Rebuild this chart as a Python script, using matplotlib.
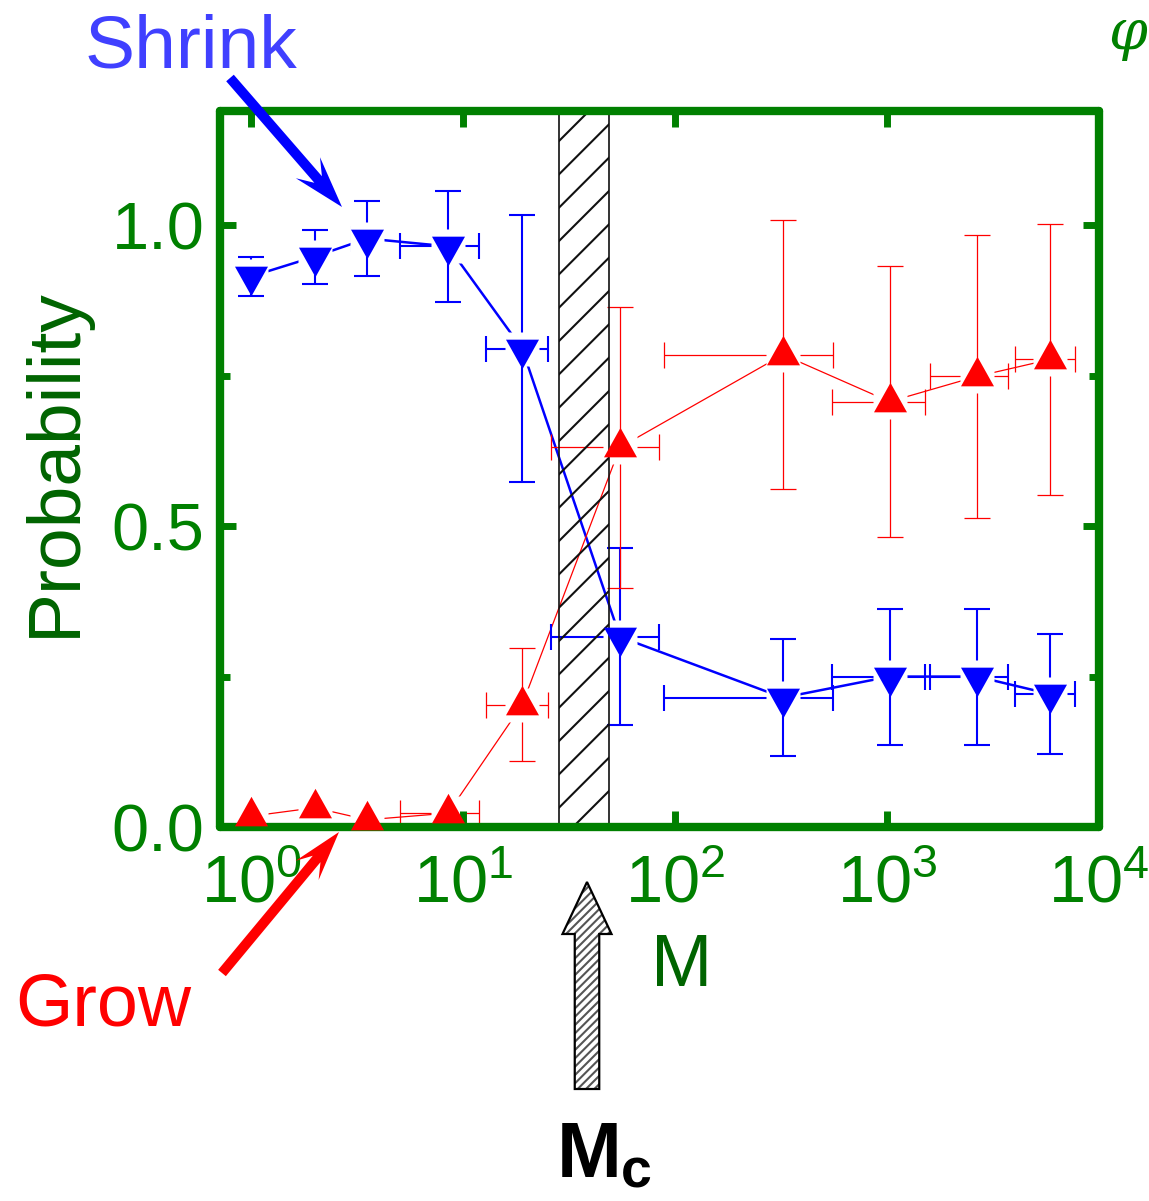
import numpy as np
import matplotlib
matplotlib.use("Agg")
import matplotlib.pyplot as plt
from matplotlib.patches import FancyArrow
from matplotlib.ticker import NullLocator, FixedLocator

plt.rcParams['font.family'] = ['Liberation Sans', 'DejaVu Sans']
plt.rcParams['mathtext.fontset'] = 'custom'
plt.rcParams['mathtext.rm'] = 'Liberation Sans'
plt.rcParams['mathtext.it'] = 'Liberation Sans:italic'
plt.rcParams['mathtext.bf'] = 'Liberation Sans:bold'
plt.rcParams['hatch.linewidth'] = 1.5

# ---------------- data ----------------
M = [1.0, 2.0, 3.53, 8.5, 19.0, 55.0, 323.0, 1028.0, 2660.0, 5870.0]
M_err = [0.0, 0.0, 0.54, 3.46, 6.1, 29.0, 234.0, 478.0, 1063.0, 1845.0]

shrink = [0.915, 0.948, 0.978, 0.965, 0.795, 0.316, 0.215, 0.250, 0.250, 0.221]
shrink_err = [0.032, 0.045, 0.063, 0.092, 0.222, 0.147, 0.097, 0.113, 0.113, 0.100]

grow = [0.018, 0.032, 0.012, 0.023, 0.203, 0.631, 0.785, 0.707, 0.749, 0.777]
grow_err = [0.010, 0.025, 0.010, 0.015, 0.094, 0.234, 0.224, 0.225, 0.235, 0.226]

Mc_band = [28.4, 48.9]

x_ticks = [1, 10, 100, 1000, 10000]
y_ticks = [0.0, 0.5, 1.0]
y_ticklabels = ['0.0', '0.5', '1.0']
y_minor = [0.25, 0.75]

GREEN = '#008000'
DGREEN = '#006400'
BLUE = '#0000FF'
RED = '#FF0000'

W, H = 1149, 1201
fig = plt.figure(figsize=(W / 100, H / 100), dpi=100)
L, R, T, B = 220, 1099, 111, 827
ax = fig.add_axes([L / W, (H - B) / H, (R - L) / W, (B - T) / H])

ax.set_xscale('log')
ax.set_xlim(0.714, 1e4)
ax.set_ylim(0, 1.19)

# custom triangle markers with centroid at origin
h, w = 29.5, 16.5
up_tri = [(-w, -h / 3), (w, -h / 3), (0, 2 * h / 3), (-w, -h / 3)]
down_tri = [(x, -y) for x, y in up_tri]
ms_tri = 2 * (2 * h / 3) * 0.72

# hatched band
ax.axvspan(Mc_band[0], Mc_band[1], facecolor='none', edgecolor='#111111',
           hatch='/', lw=1.2, zorder=2.2)

# connecting lines
ax.plot(M, shrink, color=BLUE, lw=1.8, zorder=1.6)
ax.plot(M, grow, color=RED, lw=0.9, zorder=1.6)

# error bars
ax.errorbar(M, shrink, yerr=shrink_err, xerr=M_err, fmt='none', ecolor=BLUE,
            elinewidth=1.5, capsize=9.5, capthick=1.5, zorder=1.7)
ax.errorbar(M, grow, yerr=grow_err, xerr=M_err, fmt='none', ecolor=RED,
            elinewidth=0.9, capsize=9.5, capthick=0.9, zorder=1.7)

# white halos (gap around markers)
ax.plot(M, shrink, 's', ms=25, color='white', mec='none', zorder=2.0)
ax.plot(M, grow, 's', ms=25, color='white', mec='none', zorder=2.0)

# markers
ax.plot(M, shrink, linestyle='none', marker=down_tri, ms=ms_tri, color=BLUE,
        mec='none', zorder=3, clip_on=False)
ax.plot(M, grow, linestyle='none', marker=up_tri, ms=ms_tri, color=RED,
        mec='none', zorder=3, clip_on=False)

# ticks
ax.xaxis.set_major_locator(FixedLocator(x_ticks))
ax.xaxis.set_minor_locator(NullLocator())
ax.set_yticks(y_ticks)
ax.set_yticklabels(y_ticklabels)
ax.yaxis.set_minor_locator(FixedLocator(y_minor))
ax.tick_params(which='both', direction='in', top=True, right=True,
               color=GREEN, labelcolor=GREEN, labelsize=48)
ax.tick_params(which='major', length=11.5, width=5)
ax.tick_params(which='minor', length=7, width=5)
ax.tick_params(axis='x', pad=20)
ax.tick_params(axis='y', pad=11)
ax.xaxis.set_zorder(2.3)
ax.yaxis.set_zorder(2.3)

for sp in ax.spines.values():
    sp.set_color(GREEN)
    sp.set_linewidth(6)
    sp.set_capstyle('round')
    sp.set_joinstyle('round')
    sp.set_zorder(2.5)

# labels
fig.text(682 / W, (H - 967) / H, 'M', color=DGREEN, fontsize=53,
         ha='center', va='center')
fig.text(55 / W, (H - 462) / H, 'Probability', color=DGREEN, fontsize=54,
         rotation=90, ha='center', va='center')

fig.text(85 / W, (H - 67) / H, 'Shrink', color='#4040FF', fontsize=54,
         ha='left', va='baseline')
fig.text(15 / W, (H - 1025) / H, 'Grow', color=RED, fontsize=53,
         ha='left', va='baseline')

fig.text(557 / W, (H - 1177) / H, 'M', color='black', fontsize=56,
         fontweight='bold', ha='left', va='baseline')
fig.text(621 / W, (H - 1188) / H, 'c', color='black', fontsize=40,
         fontweight='bold', ha='left', va='baseline')

fig.text(1147 / W, (H - 6) / H, '\u03c6', color=GREEN, fontsize=40,
         family='DejaVu Serif', style='italic', ha='right', va='top')


# arrows (in pixel coordinates of the image, converted to inches)
def P(x, y):
    return x / 100.0, (H - y) / 100.0


def arrow(x0, y0, x1, y1, **kw):
    a, b = P(x0, y0)
    c, d = P(x1, y1)
    ar = FancyArrow(a, b, c - a, d - b, length_includes_head=True,
                    transform=fig.dpi_scale_trans, **kw)
    fig.add_artist(ar)
    return ar


arrow(230, 78, 342, 207, width=0.10, head_width=0.32, head_length=0.52,
      overhang=0.3, color=BLUE, lw=0, zorder=5)
arrow(222, 973, 339, 832, width=0.10, head_width=0.30, head_length=0.50,
      overhang=0.3, color=RED, lw=0, zorder=5)

# Mc hatched block arrow
arrow(587, 1089, 587, 882, width=0.245, head_width=0.49, head_length=0.52,
      facecolor='white', edgecolor='#555555', hatch='////', lw=0, zorder=5)
arrow(587, 1089, 587, 882, width=0.245, head_width=0.49, head_length=0.52,
      facecolor='none', edgecolor='black', lw=1.6, zorder=6)

fig.savefig('out.png', dpi=100)
